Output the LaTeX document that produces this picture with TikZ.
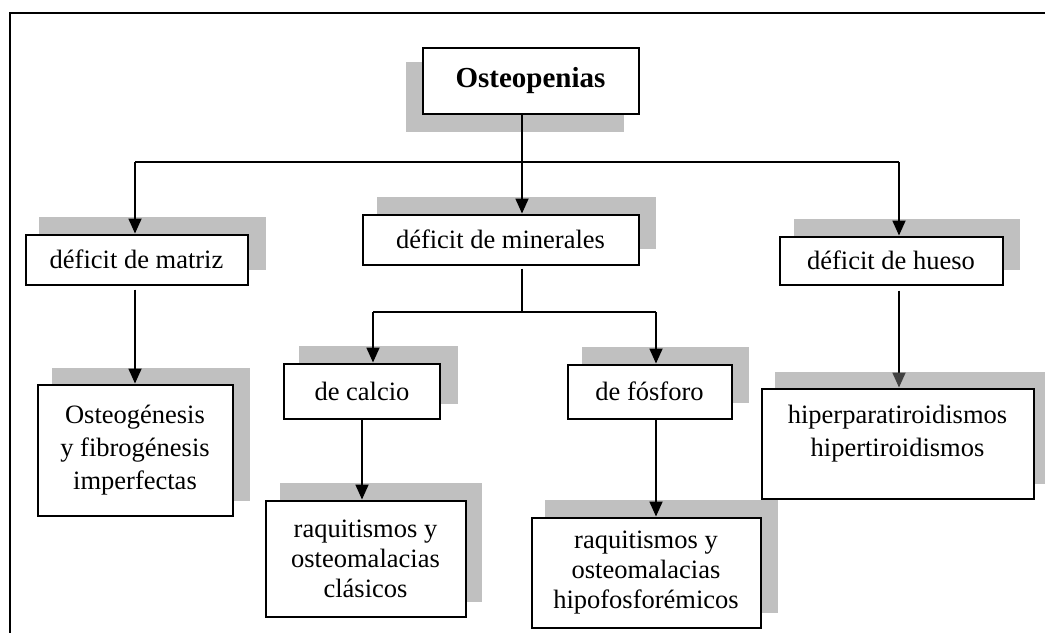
\documentclass[tikz,border=0pt]{standalone}
\usepackage{fontspec}
\setmainfont{Liberation Serif}
\usetikzlibrary{arrows.meta}
\definecolor{shadowgray}{RGB}{192,192,192}
\begin{document}
\begin{tikzpicture}[x=1pt,y=-1pt,
  box/.style={draw, line width=2pt, fill=white, inner sep=0pt, align=center,
    font=\fontsize{26.5}{33}\selectfont},
  tight/.style={font=\fontsize{26.5}{30}\selectfont},
  shade/.style={fill=shadowgray},
  conn/.style={line width=1.2pt},
  arr/.style={line width=1.8pt, -{Triangle[length=15pt,width=13pt]}},
  frame/.style={line width=2pt}
]
\useasboundingbox (0,0) rectangle (1045,633);
% frame
\coordinate (fTL) at (9.5,13);
\coordinate (fTR) at (1045,13);
\coordinate (fBL) at (9.5,633);
\draw[frame] (fTR) -- (fTL) -- (fBL);
% shadows
\fill[shade] (406,62) rectangle (624,132);
\fill[shade] (39,217) rectangle (266,270);
\fill[shade] (377,197) rectangle (656,249);
\fill[shade] (794,219) rectangle (1020,270);
\fill[shade] (52,368) rectangle (250,501);
\fill[shade] (299,346) rectangle (458,404);
\fill[shade] (582,347) rectangle (749,403);
\fill[shade] (280,483) rectangle (482,602);
\fill[shade] (545,500) rectangle (778,613);
\fill[shade] (775,372) rectangle (1045,484);
% boxes
\node[box, minimum width=216pt, minimum height=66pt, font=\fontsize{29}{33}\selectfont\bfseries] (top) at (530.5,80.5) {Osteopenias};
\node[box, minimum width=222pt, minimum height=50pt] (matriz) at (136.5,259.5) {déficit de matriz};
\node[box, minimum width=276pt, minimum height=50pt] (minerales) at (500.5,239.5) {déficit de minerales};
\node[box, minimum width=223pt, minimum height=48pt] (hueso) at (891,260.5) {déficit de hueso};
\node[box, minimum width=195pt, minimum height=131pt] (osteo) at (135,450) {Osteogénesis\\y fibrogénesis\\imperfectas};
\node[box, minimum width=156pt, minimum height=55pt] (calcio) at (362,391) {de calcio};
\node[box, minimum width=164pt, minimum height=54pt] (fosforo) at (649.5,391.5) {de fósforo};
\node[box, tight, minimum width=200pt, minimum height=116pt] (clasicos) at (365.5,558.5) {raquitismos y\\osteomalacias\\clásicos};
\node[box, tight, minimum width=229pt, minimum height=110pt] (hipofos) at (646,572.5) {raquitismos y\\osteomalacias\\hipofosforémicos};
\node[box, minimum width=272pt, minimum height=110pt] (hiper) at (897.5,443.5) {hiperparatiroidismos\\hipertiroidismos\rule[-26pt]{0pt}{26pt}};
% connectors
\coordinate (j0) at (522,162);
\coordinate (jL) at (135,162);
\coordinate (jR) at (899,162);
\draw[conn] (top.south -| j0) -- (j0);
\draw[conn] (jL) -- (jR);
\draw[arr] (jL) -- (jL |- matriz.north);
\draw[arr] (j0) -- (j0 |- minerales.north);
\draw[arr] (jR) -- (jR |- hueso.north);
\draw[arr, shorten <=4pt] (osteo.north |- matriz.south) -- (osteo.north);
\coordinate (j1) at (522,312);
\coordinate (jC) at (373,312);
\coordinate (jF) at (656,312);
\draw[conn, line width=1.6pt, shorten <=3pt] (minerales.south -| j1) -- (j1);
\draw[conn, line width=1.4pt] (jC) -- (jF);
\draw[arr] (jC) -- (jC |- calcio.north);
\draw[arr] (jF) -- (jF |- fosforo.north);
\draw[arr] (calcio.south) -- (calcio.south |- clasicos.north);
\draw[arr] (fosforo.south -| jF) -- (jF |- hipofos.north);
\draw[line width=1.8pt, -{Triangle[length=15pt,width=13pt,color=black!75]}, shorten <=5pt] (hueso.south -| jR) -- (jR |- hiper.north);
\end{tikzpicture}
\end{document}
